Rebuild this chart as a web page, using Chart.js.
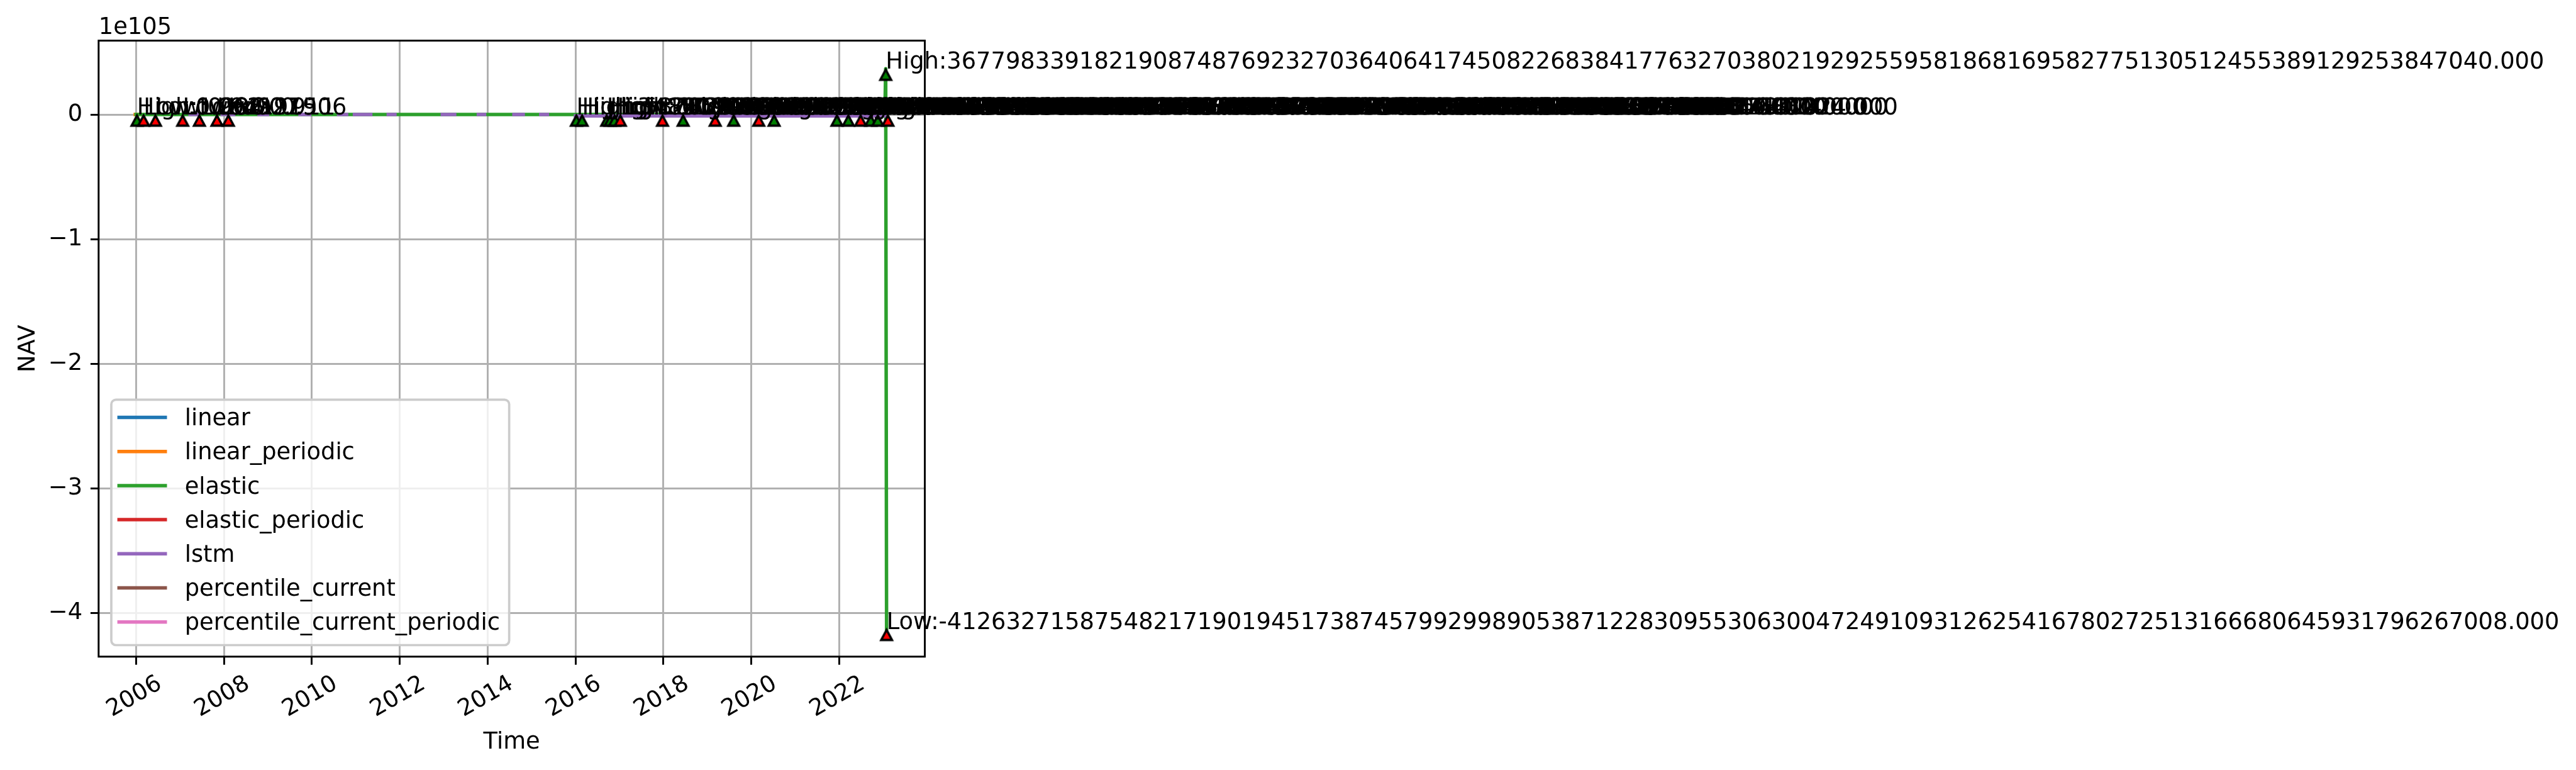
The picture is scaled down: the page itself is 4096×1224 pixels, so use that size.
<!DOCTYPE html>
<html>
<head>
<meta charset="utf-8">
<script src="https://cdn.jsdelivr.net/npm/chart.js@4.4.1/dist/chart.umd.min.js"></script>
<style>
  html, body { margin: 0; padding: 0; background: #fff; }
  #wrap { width: 4096px; height: 1224px; }
</style>
</head>
<body>
<div id="wrap"><canvas id="graficoNav" width="4096" height="1224"></canvas></div>
<script>
// ticks dos eixos
const xTicks = [2006, 2008, 2010, 2012, 2014, 2016, 2018, 2020, 2022];
const yTicks = [0, -1e105, -2e105, -3e105, -4e105];
const yTickLabels = ['0', '\u22121', '\u22122', '\u22123', '\u22124'];

// series (x em anos decimais)
const seriesNames = ['linear', 'linear_periodic', 'elastic', 'elastic_periodic', 'lstm', 'percentile_current', 'percentile_current_periodic'];
const seriesColors = ['#1f77b4', '#ff7f0e', '#2ca02c', '#d62728', '#9467bd', '#8c564b', '#e377c2'];

const linearX = [];
const linearY = [];
const linearPeriodicX = [2005.98, 2006.1];
const linearPeriodicY = [1.000, 1.004];
const elasticX = [2006.0, 2006.5, 2007.0, 2007.5, 2008.0, 2009.0, 2010.0, 2011.0, 2012.0, 2013.0, 2014.0, 2015.0,
  2016.0, 2016.5, 2017.0, 2018.0, 2019.0, 2020.0, 2021.0, 2022.0, 2023.04, 2023.06, 2023.08];
const elasticY = [1.036, 0.95, 0.93, 0.92, 0.91, 1.02, 1.08, 1.11, 1.15, 1.19, 1.22, 1.25,
  1.30, 5.87e69, -5.19e66, 7.35e62, -2.91e61, 9.02e61, 3.1e60, 2.17e59, 8.09e60, 3.6779833918219087e104, -4.1263271587548217e105];
const elasticPeriodicX = [];
const elasticPeriodicY = [];
const lstmX = [2007.23, 2007.41, 2007.42, 2007.96, 2008.22, 2008.23, 2008.80, 2008.99, 2009.0, 2009.73, 2009.95, 2009.96,
  2010.61, 2010.79, 2010.8, 2010.97, 2011.34, 2011.35, 2011.74, 2011.89, 2011.9, 2012.97, 2013.25, 2013.26,
  2013.79, 2013.93, 2013.94, 2014.60, 2014.81, 2014.82, 2015.21, 2015.36, 2015.37, 2016.0, 2019.5, 2023.04];
const lstmY = [0.97, 0.98, null, 0.99, 1.01, null, 1.05, 1.06, null, 1.09, 1.10, null,
  1.12, 1.13, null, 1.14, 1.16, null, 1.17, 1.18, null, 1.20, 1.21, null,
  1.22, 1.23, null, 1.24, 1.25, null, 1.26, 1.27, null, -1.1e103, -1.1e103, -1.1e103];
const pctX = [];
const pctY = [];
const pctPeriodicX = [];
const pctPeriodicY = [];

// marcadores High / Low
const markerX = [2006.02, 2006.17, 2006.44, 2007.06, 2007.44, 2007.84, 2008.10,
  2016.02, 2016.15, 2016.71, 2016.79, 2016.89, 2017.02, 2017.98, 2018.45, 2019.18, 2019.60, 2020.17, 2020.52,
  2021.95, 2022.21, 2022.49, 2022.72, 2022.88, 2023.06, 2023.08, 2023.11];
const markerKind = ['High', 'Low', 'Low', 'Low', 'Low', 'Low', 'Low',
  'High', 'High', 'High', 'High', 'High', 'Low', 'Low', 'High', 'Low', 'High', 'Low', 'High',
  'High', 'High', 'Low', 'High', 'High', 'High', 'Low', 'Low'];
const markerValue = [1.036, 0.962, 0.941, 0.927, 0.915, 0.911, 0.906,
  3.41e68, 5.87e69, 8.12e67, 2.46e66, 6.73e68, -5.19e66, -4.08e64, 7.35e62, -2.91e61, 6.48e60, -1.37e59, 9.02e61,
  4.55e58, 2.17e59, -3.84e57, 1.62e59, 8.09e60, 3.6779833918219087e104, -4.1263271587548217e105, -5.73e60];

const S = 0.552;
const PT = 480 / 72 * S;           // 1pt em px
const FS = 10 * PT;                // fonte 10pt
const FONT = 'DejaVu Sans';

function pts(xs, ys) {
    return xs.map((x, i) => ({ x: x, y: ys[i] }));
}

// formata como o '%.3f' do python, mesmo p/ numeros enormes
function fmt3(v) {
    if (Math.abs(v) < 1e21) return v.toFixed(3);
    return (v < 0 ? '-' : '') + BigInt(Math.abs(v)).toString() + '.000';
}

// triangulo com o vertice no ponto
function makeTriangle(fill) {
    const c = document.createElement('canvas');
    c.width = 34; c.height = 50;
    const g = c.getContext('2d');
    g.translate(17, 25);
    g.beginPath();
    g.moveTo(0, 1.5);
    g.lineTo(-8.6, 17.6);
    g.lineTo(8.6, 17.6);
    g.closePath();
    g.fillStyle = fill;
    g.fill();
    g.lineJoin = 'miter';
    g.lineWidth = 3.6;
    g.strokeStyle = '#000';
    g.stroke();
    return c;
}
const triHigh = makeTriangle('#008000');
const triLow = makeTriangle('#ff0000');

const seriesX = [linearX, linearPeriodicX, elasticX, elasticPeriodicX, lstmX, pctX, pctPeriodicX];
const seriesY = [linearY, linearPeriodicY, elasticY, elasticPeriodicY, lstmY, pctY, pctPeriodicY];

const datasets = seriesNames.map((name, i) => ({
    type: 'line',
    label: name,
    data: pts(seriesX[i], seriesY[i]),
    borderColor: seriesColors[i],
    backgroundColor: seriesColors[i],
    borderWidth: 1.5 * PT,
    borderCapStyle: 'square',
    borderJoinStyle: 'round',
    pointRadius: 0,
    tension: 0,
    spanGaps: false,
    fill: false,
    order: -i
}));

datasets.push({
    type: 'scatter',
    label: 'marcadores',
    data: pts(markerX, markerValue),
    pointStyle: markerKind.map(k => k === 'High' ? triHigh : triLow),
    pointRadius: 10,
    order: -20
});

// moldura, anotacoes, legenda e rotulos
const extras = {
    id: 'extras',
    afterDatasetsDraw(chart) {
        const ctx = chart.ctx;
        const a = chart.chartArea;
        const xs = chart.scales.x, ys = chart.scales.y;
        ctx.save();

        // spines
        ctx.strokeStyle = '#000';
        ctx.lineWidth = 0.8 * PT;
        ctx.strokeRect(a.left, a.top, a.right - a.left, a.bottom - a.top);

        // anotacoes High/Low
        ctx.font = FS + 'px "' + FONT + '"';
        ctx.fillStyle = '#000';
        ctx.textAlign = 'left';
        ctx.textBaseline = 'alphabetic';
        markerX.forEach((x, i) => {
            const txt = markerKind[i] + ':' + fmt3(markerValue[i]);
            ctx.fillText(txt, xs.getPixelForValue(x), ys.getPixelForValue(markerValue[i]));
        });

        // legenda
        let maxW = 0;
        seriesNames.forEach(n => { maxW = Math.max(maxW, ctx.measureText(n).width); });
        const bl = a.left + 20.2;
        const bb = a.bottom - 18.3;
        const bt = bb - 390.1;
        const br = bl + 116.7 + maxW + 14.7;
        ctx.beginPath();
        ctx.roundRect(bl, bt, br - bl, bb - bt, 0.2 * FS);
        ctx.fillStyle = 'rgba(255,255,255,0.8)';
        ctx.fill();
        ctx.strokeStyle = '#cccccc';
        ctx.lineWidth = 1.0 * PT;
        ctx.stroke();
        seriesNames.forEach((n, i) => {
            const y = bt + 28.1 + i * 54.2;
            ctx.beginPath();
            ctx.moveTo(bl + 9.6, y);
            ctx.lineTo(bl + 88.5, y);
            ctx.strokeStyle = seriesColors[i];
            ctx.lineWidth = 1.5 * PT;
            ctx.lineCap = 'butt';
            ctx.stroke();
            ctx.fillStyle = '#000';
            ctx.fillText(n, bl + 116.7, y + 12.7);
        });

        // offset do eixo y
        ctx.fillText('1e105', a.left, 54);

        // titulos dos eixos
        ctx.textAlign = 'center';
        ctx.fillText('Time', (a.left + a.right) / 2, 1189.6);
        ctx.translate(45, (a.top + a.bottom) / 2);
        ctx.rotate(-Math.PI / 2);
        ctx.textBaseline = 'middle';
        ctx.fillText('NAV', 0, 0);
        ctx.restore();
    }
};

Chart.defaults.font.family = FONT;
Chart.defaults.font.size = FS;
Chart.defaults.color = '#000';

const ctxNav = document.getElementById('graficoNav').getContext('2d');
const graficoNav = new Chart(ctxNav, {
    type: 'line',
    data: { datasets: datasets },
    options: {
        responsive: false,
        animation: false,
        devicePixelRatio: 1,
        layout: { padding: { left: 0, top: 64.6, right: 4096 - 1470.5, bottom: 0 } },
        plugins: { legend: { display: false }, tooltip: { enabled: false } },
        scales: {
            x: {
                type: 'linear',
                min: 2005.147,
                max: 2023.95,
                afterBuildTicks: s => { s.ticks = xTicks.map(v => ({ value: v })); },
                afterFit: s => { s.height = 1224 - 1043.8; },
                ticks: {
                    autoSkip: false,
                    minRotation: 30,
                    maxRotation: 30,
                    labelOffset: 38,
                    padding: 8.7,
                    callback: v => String(v)
                },
                grid: { color: '#b0b0b0', lineWidth: 0.8 * PT, tickColor: '#000', tickWidth: 0.8 * PT, tickLength: 3.5 * PT },
                border: { display: false }
            },
            y: {
                type: 'linear',
                min: -4.349e105,
                max: 0.593e105,
                afterBuildTicks: s => { s.ticks = yTicks.map(v => ({ value: v })); },
                afterFit: s => { s.width = 156.8; },
                ticks: {
                    padding: 3.5 * PT,
                    callback: (v, i) => yTickLabels[i]
                },
                grid: { color: '#b0b0b0', lineWidth: 0.8 * PT, tickColor: '#000', tickWidth: 0.8 * PT, tickLength: 3.5 * PT },
                border: { display: false }
            }
        }
    },
    plugins: [extras]
});
</script>
</body>
</html>
